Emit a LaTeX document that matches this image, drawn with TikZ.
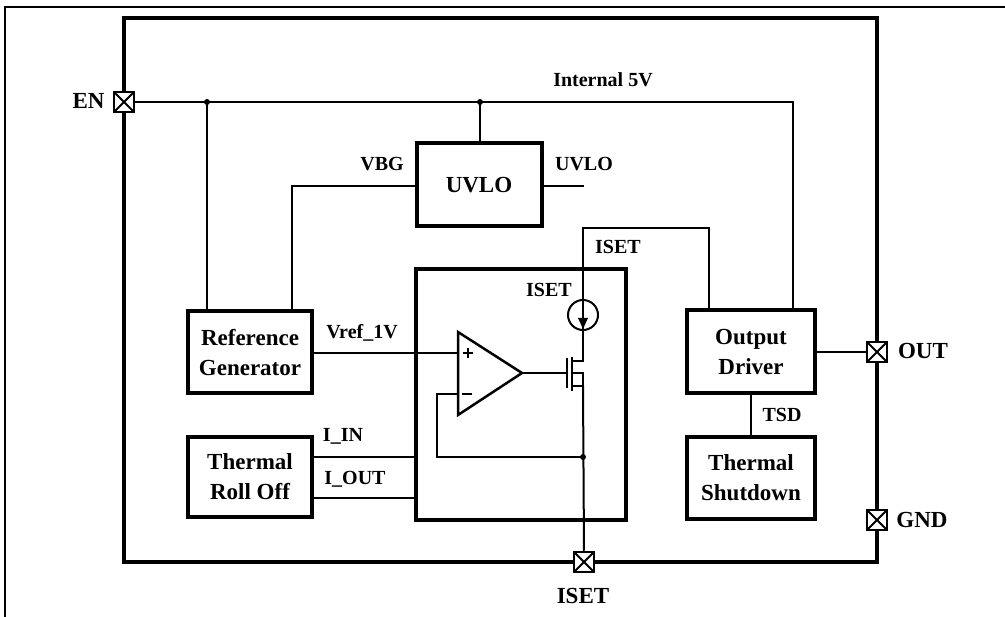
\documentclass[tikz,border=0pt]{standalone}
\usepackage{fontspec}
\setmainfont{Liberation Serif}
\begin{document}
\begin{tikzpicture}[x=1pt,y=-1pt,
  blk/.style={draw, line width=4pt, inner sep=0pt, align=center,
    font=\fontsize{23}{30}\selectfont\bfseries},
  lbl/.style={font=\fontsize{20}{24}\selectfont\bfseries, anchor=base, inner sep=0pt},
  pinlbl/.style={font=\fontsize{23}{28}\selectfont\bfseries, anchor=base, inner sep=0pt},
  pin/.style={draw, fill=white, line width=2.5pt, minimum size=20pt, inner sep=0pt,
    path picture={\draw[line width=2pt] (path picture bounding box.north west) -- (path picture bounding box.south east)
      (path picture bounding box.north east) -- (path picture bounding box.south west);}},
  wire/.style={line width=2pt},
  jdot/.style={circle, fill, inner sep=0pt, minimum size=6pt}]
\useasboundingbox (0,0) rectangle (1005,617);
% outer thin frame
\draw[line width=1.5pt] (5,617) -- (5,7) -- (1005,7);
% inner chip frame
\draw[line width=4pt] (124,18) rectangle (877,562);

% blocks
\node[blk, minimum width=124pt, minimum height=82pt] (ref) at (250,352.5) {Reference\\Generator};
\node[blk, minimum width=124pt, minimum height=80pt] (tro) at (250,477) {Thermal\\Roll Off};
\node[blk, minimum width=125pt, minimum height=83pt] (uvlo) at (479,185) {UVLO};
\node[blk, minimum width=210pt, minimum height=251pt] (core) at (521,394.5) {};
\node[blk, minimum width=128pt, minimum height=83pt] (od) at (751,351.5) {Output\\Driver};
\node[blk, minimum width=128pt, minimum height=82pt] (ts) at (751,478) {Thermal\\Shutdown};

% pins
\node[pin] (en) at (124,102) {};
\node[pin] (out) at (877,352) {};
\node[pin] (gnd) at (877,520) {};
\node[pin] (iset) at (584,562) {};

% junction coordinates
\coordinate (j1) at (207,102);
\coordinate (j2) at (480,102);
\coordinate (c5v) at (793,102);

% Internal 5V rail
\draw[wire] (en.east) -- (c5v) -- (c5v |- od.north);
\draw[wire] (j1) -- (j1 |- ref.north);
\draw[wire] (j2) -- (j2 |- uvlo.north);
\node[jdot] at (j1) {};
\node[jdot] at (j2) {};

% VBG and UVLO out
\coordinate (vbgc) at (292,186);
\draw[wire] (uvlo.west |- vbgc) -- (vbgc) -- (vbgc |- ref.north);
\coordinate (uvloend) at (584,186);
\draw[wire] (uvlo.east |- uvloend) -- (uvloend);

% op amp
\coordinate (oa1) at (458,332);
\coordinate (oa2) at (458,415);
\coordinate (oaout) at (522,373);
\coordinate (oap) at (458,353);
\coordinate (oan) at (458,394);
\draw[line width=2.5pt, line join=miter] (oa1) -- (oaout) -- (oa2) -- cycle;
\draw[line width=2pt] (462.5,353) -- (472.5,353) (467.5,348) -- (467.5,358);
\draw[line width=2pt] (462,394) -- (472,394);

% Vref
\draw[wire] (ref.east |- oap) -- (oap);

% MOSFET and current source
\coordinate (mx) at (583,228);
\coordinate (drn) at (583,361);
\coordinate (src) at (583,386);
\coordinate (fb) at (583,457);
\draw[wire] (od.north -| 709,0) -- (709,228) -- (mx) -- (drn) -- (572,361);
\draw[wire] (572,357) -- (572,391);
\draw[wire] (567,358) -- (567,388);
\draw[wire] (oaout) -- (567,373);
\draw[wire] (572,373) -- (583,373) -- (src) -- (572,386);
\draw[wire] (src) -- (iset.north);
\draw[wire] (583,315) circle (15);
\fill (578,318) -- (588,318) -- (583,329) -- cycle;

% feedback
\draw[wire] (fb) -- (437,457) -- (437,394) -- (oan);
\node[jdot] at (fb) {};

% thermal roll off links
\draw[wire] (tro.east |- 0,457) -- (core.west |- 0,457);
\draw[wire] (tro.east |- 0,498) -- (core.west |- 0,498);

% output and TSD
\draw[wire] (od.east |- out) -- (out.west);
\draw[wire] (od.south) -- (ts.north);

% labels
\node[pinlbl] at (88.5,109) {EN};
\node[pinlbl] at (923,359) {OUT};
\node[pinlbl] at (922,528) {GND};
\node[pinlbl] at (583,603) {ISET};
\node[lbl] at (603,87) {Internal 5V};
\node[lbl] at (382,171) {VBG};
\node[lbl] at (584,171) {UVLO};
\node[lbl] at (362,339) {Vref\_1V};
\node[lbl] at (343,442) {I\_IN};
\node[lbl] at (355,485) {I\_OUT};
\node[lbl] at (549,297) {ISET};
\node[lbl] at (618,254) {ISET};
\node[lbl] at (782,422) {TSD};
\end{tikzpicture}
\end{document}
